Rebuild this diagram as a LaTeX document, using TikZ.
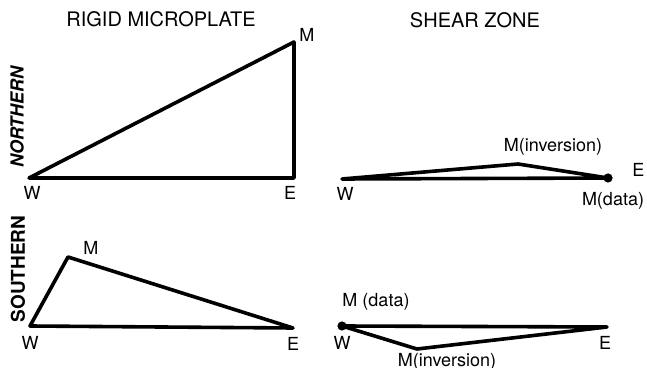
\documentclass[tikz,border=0pt]{standalone}
\usepackage{fontspec}
\setmainfont{TeX Gyre Heros}
\usepackage{tikz}
\usetikzlibrary{positioning}
\tikzset{
 plate/.style={
 draw=black,
 line width=1.8pt,
 line join=round
 },
 heading/.style={
 inner sep=0pt,
 font=\fontsize{10}{12}\selectfont
 },
 side/.style={
 inner sep=0pt,
 rotate=90,
 font=\fontsize{9}{11}\selectfont\bfseries
 },
 vlabel/.style={
 inner sep=0pt,
 font=\fontsize{9}{11}\selectfont
 },
 datadot/.style={
 circle,
 fill=black,
 inner sep=0pt,
 minimum size=4.6pt
 }
}

\begin{document}
\begin{tikzpicture}[x=0.5pt, y=-0.5pt]
 \useasboundingbox (0,0) rectangle (647,368);

 \node[heading] (rigidtitle) at (161,19) {RIGID MICROPLATE};
 \node[heading] (sheartitle) at (475,20) {SHEAR ZONE};
 \node[side, font=\fontsize{9}{11}\selectfont\bfseries\itshape] (northern) at (17,117) {NORTHERN};
 \node[side, font=\fontsize{9.5}{11}\selectfont\bfseries] (southern) at (18,269) {SOUTHERN};

 \coordinate (rnW) at (29,178);
 \coordinate (rnE) at (294,178);
 \coordinate (rnM) at (294,42);
 \coordinate (rsW) at (30,326);
 \coordinate (rsM) at (68,257);
 \coordinate (rsE) at (293,328);
 \coordinate (znW) at (342,179);
 \coordinate (znM) at (518,164);
 \coordinate (znE) at (608,178);
 \coordinate (zsW) at (342,326);
 \coordinate (zsM) at (417,349);
 \coordinate (zsE) at (607,327);

 \draw[plate] (rnW) -- (rnE) -- (rnM) -- cycle;
 \draw[plate] (rsW) -- (rsM) -- (rsE) -- cycle;
 \draw[plate] (znW) -- (znM) -- (znE) -- cycle;
 \draw[plate] (zsW) -- (zsM) -- (zsE) -- cycle;
 \node[datadot] (zndata) at (znE) {};
 \node[datadot] (zsdata) at (zsW) {};

 \node[vlabel, below=4pt of rnW, xshift=1.5pt] (rnWlbl) {W};
 \node[vlabel, below=4pt of rnE, xshift=-2pt] (rnElbl) {E};
 \node[vlabel, right=2.5pt of rnM, yshift=3.5pt] (rnMlbl) {M};
 \node[vlabel, below=5pt of rsW] (rsWlbl) {W};
 \node[vlabel, below=4.5pt of rsE] (rsElbl) {E};
 \node[vlabel, right=7.5pt of rsM, yshift=4.5pt] (rsMlbl) {M};

 \node[vlabel, below=4pt of znW, xshift=1.5pt] (znWlbl) {W};
 \node[vlabel, right=12pt of znE, yshift=4pt] (znElbl) {E};
 \node[vlabel, above=4pt of znM, xshift=17.5pt] (znMlbl) {M(inversion)};
 \node[vlabel, below=7pt of znE, xshift=2.5pt] (zndatalbl) {M(data)};
 \node[vlabel, below=5pt of zsW] (zsWlbl) {W};
 \node[vlabel, below=4.5pt of zsE, xshift=-1pt] (zsElbl) {E};
 \node[vlabel, below=2pt of zsM, xshift=15pt] (zsMlbl) {M(inversion)};
 \node[vlabel, above=7.5pt of zsW, xshift=17pt] (zsdatalbl) {M (data)};
\end{tikzpicture}
\end{document}
